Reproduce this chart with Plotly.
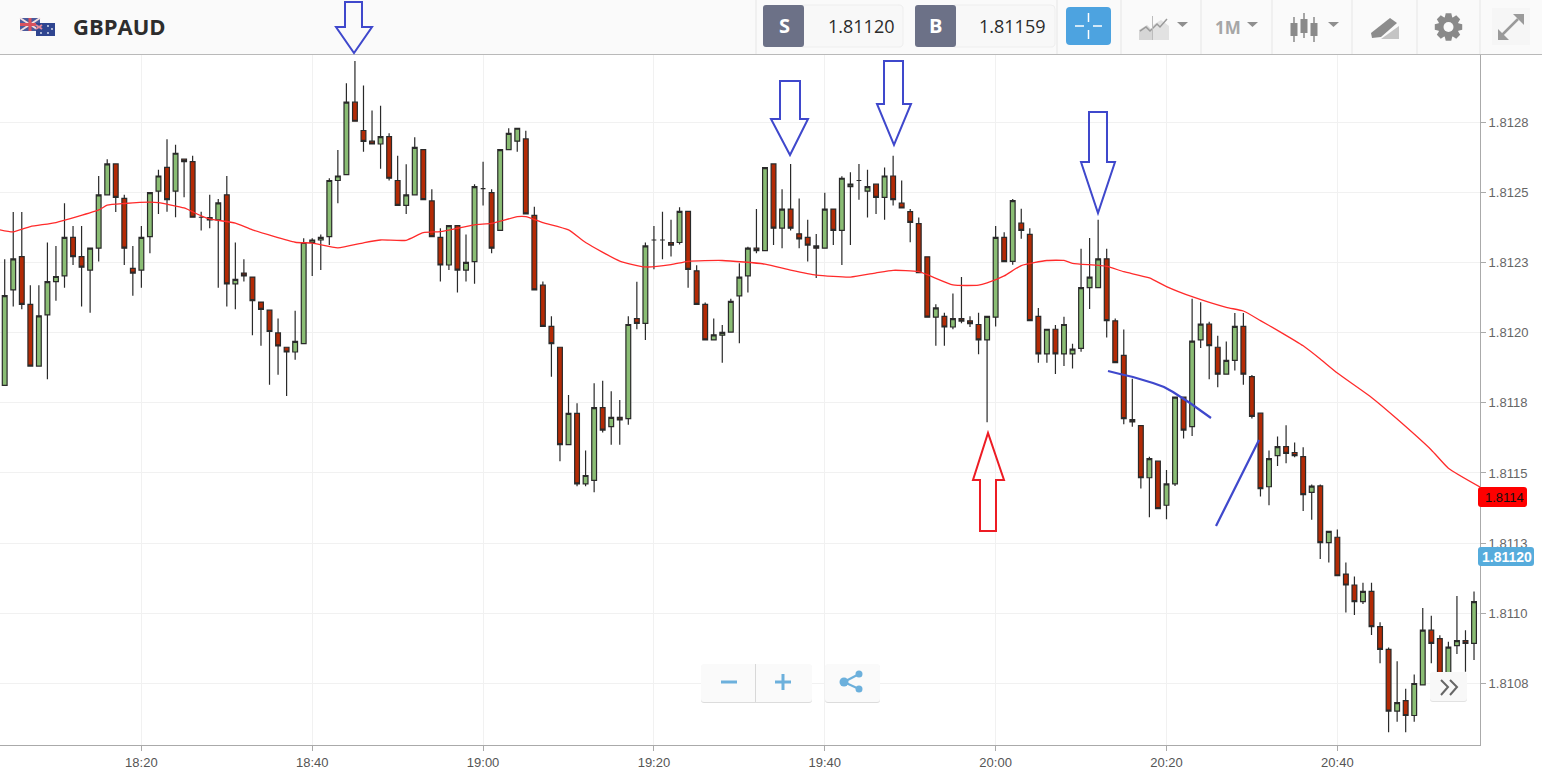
import math
import pandas as pd
import plotly.graph_objects as go

symbol = "GBPAUD"
sell_price = "1.81120"
buy_price = "1.81159"
ma_label = "1.8114"
first_candle = "2018-01-01 18:04"

opens = [1.811812,1.812152,1.812271,1.812101,1.811881,1.812063,1.812182,1.812202,1.812339,1.812271,
1.812223,1.812301,1.812491,1.812601,1.812478,1.812229,1.812223,1.812342,1.812504,1.812589,
1.812504,1.812618,1.812609,1.812411,1.812410,1.812402,1.812491,1.812174,1.812212,1.812198,
1.812109,1.812080,1.811999,1.811948,1.811931,1.811961,1.812321,1.812330,1.812342,1.812542,
1.812563,1.812821,1.812720,1.812682,1.812672,1.812698,1.812542,1.812453,1.812491,1.812652,
1.812469,1.812339,1.812241,1.812381,1.812223,1.812253,1.812513,1.812499,1.812364,1.812652,
1.812682,1.812690,1.812418,1.812169,1.812022,1.811948,1.811601,1.811712,1.811461,1.811474,
1.811733,1.811665,1.811698,1.811694,1.812050,1.812033,1.812330,1.812330,1.812321,1.812321,
1.812432,1.812220,1.812101,1.811974,1.811991,1.812002,1.812131,1.812202,1.812301,1.812292,
1.812601,1.812372,1.812440,1.812352,1.812339,1.812309,1.812301,1.812440,1.812364,1.812520,
1.812542,1.812504,1.812529,1.812482,1.812558,1.812461,1.812431,1.812388,1.812270,1.812055,
1.812058,1.812020,1.812050,1.812042,1.812029,1.811974,1.812055,1.812339,1.812254,1.812390,
1.812350,1.812058,1.811924,1.812012,1.811924,1.811924,1.811944,1.812160,1.812160,1.812263,
1.812042,1.811919,1.811690,1.811669,1.811483,1.811542,1.811385,1.811461,1.811770,1.811665,
1.811974,1.812030,1.811948,1.811852,1.811901,1.812022,1.811843,1.811713,1.811451,1.811562,
1.811594,1.811573,1.811558,1.811431,1.811454,1.811252,1.811271,1.811140,1.811101,1.811042,
1.811078,1.810953,1.810872,1.810652,1.810689,1.810636,1.810745,1.810940,1.810910,1.810751,
1.810885,1.810903,1.810893]
highs = [1.812261,1.812430,1.812430,1.812169,1.812169,1.812321,1.812309,1.812461,1.812380,1.812380,
1.812301,1.812558,1.812618,1.812601,1.812491,1.812309,1.812380,1.812499,1.812580,1.812689,
1.812669,1.812618,1.812630,1.812431,1.812491,1.812476,1.812558,1.812321,1.812261,1.812198,
1.812109,1.812080,1.812050,1.811948,1.812078,1.812336,1.812336,1.812350,1.812550,1.812651,
1.812888,1.812968,1.812880,1.812791,1.812808,1.812710,1.812630,1.812600,1.812696,1.812652,
1.812511,1.812372,1.812381,1.812381,1.812350,1.812529,1.812609,1.812511,1.812652,1.812728,
1.812728,1.812719,1.812448,1.812182,1.812058,1.811948,1.811778,1.811748,1.811580,1.811820,
1.811829,1.811791,1.811760,1.812058,1.812181,1.812321,1.812380,1.812431,1.812402,1.812447,
1.812432,1.812240,1.812107,1.812050,1.812027,1.812121,1.812247,1.812306,1.812440,1.812588,
1.812601,1.812511,1.812601,1.812478,1.812402,1.812351,1.812498,1.812440,1.812557,1.812571,
1.812601,1.812580,1.812529,1.812588,1.812630,1.812542,1.812440,1.812410,1.812270,1.812101,
1.812071,1.812139,1.812198,1.812058,1.812071,1.812058,1.812380,1.812358,1.812476,1.812441,
1.812372,1.812088,1.812012,1.812027,1.812057,1.811960,1.812299,1.812337,1.812402,1.812299,
1.812050,1.812011,1.811836,1.811669,1.811558,1.811542,1.811511,1.811770,1.811770,1.812121,
1.812108,1.812039,1.811989,1.811968,1.812070,1.812070,1.811849,1.811715,1.811580,1.811630,
1.811670,1.811609,1.811592,1.811459,1.811459,1.811292,1.811299,1.811181,1.811131,1.811109,
1.811109,1.810968,1.810878,1.810829,1.810731,1.810782,1.811019,1.810991,1.810922,1.810899,
1.811062,1.810940,1.811078]
lows = [1.811812,1.812093,1.812083,1.811881,1.811881,1.811834,1.812114,1.812160,1.812241,1.812093,
1.812071,1.812253,1.812491,1.812430,1.812241,1.812131,1.812160,1.812283,1.812423,1.812431,
1.812411,1.812482,1.812411,1.812364,1.812372,1.812160,1.812093,1.812083,1.812182,1.811991,
1.811953,1.811814,1.811850,1.811774,1.811903,1.811961,1.812202,1.812223,1.812312,1.812461,
1.812563,1.812753,1.812644,1.812672,1.812584,1.812542,1.812453,1.812423,1.812491,1.812474,
1.812342,1.812182,1.812223,1.812143,1.812182,1.812174,1.812453,1.812283,1.812364,1.812652,
1.812644,1.812423,1.812152,1.812022,1.811843,1.811542,1.811601,1.811453,1.811453,1.811431,
1.811644,1.811601,1.811601,1.811672,1.812012,1.811974,1.812226,1.812261,1.812271,1.812314,
1.812160,1.812101,1.811974,1.811974,1.811893,1.812002,1.811962,1.812143,1.812283,1.812292,
1.812312,1.812301,1.812364,1.812301,1.812253,1.812195,1.812301,1.812312,1.812241,1.812312,
1.812473,1.812410,1.812423,1.812402,1.812453,1.812444,1.812322,1.812214,1.812055,1.811953,
1.811953,1.812012,1.812033,1.812020,1.811923,1.811681,1.812022,1.812253,1.812242,1.812334,
1.812043,1.811893,1.811893,1.811853,1.811881,1.811872,1.811932,1.812084,1.812160,1.811983,
1.811893,1.811674,1.811665,1.811445,1.811342,1.811373,1.811335,1.811454,1.811623,1.811632,
1.811945,1.811834,1.811805,1.811852,1.811865,1.811814,1.811694,1.811416,1.811385,1.811525,
1.811535,1.811556,1.811365,1.811333,1.811194,1.811181,1.811134,1.811003,1.810994,1.811033,
1.810923,1.810822,1.810576,1.810614,1.810576,1.810614,1.810745,1.810822,1.810715,1.810727,
1.810855,1.810792,1.810834]
closes = [1.812132,1.812263,1.812101,1.811881,1.812060,1.812182,1.812200,1.812339,1.812271,1.812233,
1.812301,1.812491,1.812601,1.812482,1.812301,1.812212,1.812339,1.812499,1.812558,1.812474,
1.812639,1.812609,1.812411,1.812411,1.812402,1.812462,1.812174,1.812190,1.812202,1.812114,
1.812083,1.812004,1.811953,1.811931,1.811969,1.812321,1.812330,1.812339,1.812542,1.812558,
1.812821,1.812753,1.812681,1.812672,1.812698,1.812550,1.812453,1.812491,1.812660,1.812474,
1.812342,1.812241,1.812381,1.812223,1.812250,1.812520,1.812513,1.812301,1.812652,1.812710,
1.812728,1.812423,1.812152,1.812022,1.811961,1.811601,1.811712,1.811461,1.811491,1.811733,
1.811653,1.811698,1.811689,1.812029,1.812033,1.812309,1.812330,1.812330,1.812312,1.812432,
1.812225,1.812101,1.811974,1.811992,1.812001,1.812111,1.812198,1.812301,1.812292,1.812588,
1.812372,1.812440,1.812372,1.812334,1.812312,1.812301,1.812440,1.812364,1.812550,1.812529,
1.812542,1.812520,1.812482,1.812558,1.812474,1.812444,1.812393,1.812214,1.812055,1.812088,
1.812020,1.812050,1.812041,1.812032,1.811974,1.812058,1.812339,1.812253,1.812470,1.812364,
1.812043,1.811924,1.812012,1.811924,1.812029,1.811941,1.812160,1.812198,1.812263,1.812043,
1.811893,1.811694,1.811682,1.811483,1.811551,1.811373,1.811461,1.811770,1.811653,1.811970,
1.812030,1.811954,1.811852,1.811901,1.812022,1.811852,1.811702,1.811444,1.811551,1.811594,
1.811570,1.811562,1.811423,1.811453,1.811252,1.811292,1.811134,1.811101,1.811042,1.811078,
1.810953,1.810872,1.810652,1.810682,1.810636,1.810750,1.810940,1.810893,1.810751,1.810880,
1.810903,1.810893,1.811042]

ma_times = ["18:03","18:05","18:07","18:10","18:15","18:16","18:18","18:21","18:22","18:25",
"18:27","18:28","18:31","18:33","18:38","18:40","18:43","18:46","18:48","18:51",
"18:53","18:55","18:59","19:01","19:04","19:05","19:07","19:10","19:12","19:16",
"19:19","19:22","19:24","19:28","19:33","19:36","19:39","19:43","19:46","19:48",
"19:51","19:55","19:58","19:59","20:01","20:03","20:06","20:08","20:09","20:13",
"20:15","20:18","20:20","20:23","20:27","20:29","20:31","20:33","20:36","20:38","20:40",
"20:44","20:47","20:51","20:53","20:57"]
ma_values = [1.812369,1.812359,1.812378,1.812392,1.812437,1.812454,1.812460,1.812465,1.812463,1.812444,
1.812416,1.812405,1.812390,1.812366,1.812322,1.812319,1.812302,1.812320,1.812330,1.812329,
1.812356,1.812360,1.812384,1.812389,1.812413,1.812413,1.812392,1.812366,1.812321,1.812255,
1.812234,1.812242,1.812254,1.812257,1.812244,1.812223,1.812205,1.812198,1.812213,1.812222,
1.812217,1.812170,1.812169,1.812177,1.812202,1.812239,1.812257,1.812257,1.812247,1.812236,
1.812217,1.812195,1.812164,1.812128,1.812090,1.812077,1.812043,1.812008,1.811953,1.811906,1.811856,
1.811769,1.811692,1.811582,1.811517,1.811445]

y_ticks = [1.81275,1.8125,1.81225,1.812,1.81175,1.8115,1.81125,1.811,1.81075]
y_labels = ["1.8128","1.8125","1.8123","1.8120","1.8118","1.8115","1.8113","1.8110","1.8108"]

times = pd.date_range(first_candle, periods=len(opens), freq="min")
ma_x = ["2018-01-01 " + t for t in ma_times]

W, H = 1542, 780
L, R, T, B = 0, 1480, 55, 745

# decorations are placed in screen pixels, this turns them into paper coords
def px(x):
    return (x - L) / (R - L)

def py(y):
    return (B - y) / (B - T)

def poly(pts, close=True):
    s = "M " + " L ".join(f"{px(x):.5f} {py(y):.5f}" for x, y in pts)
    return s + (" Z" if close else "")

shapes = []
notes = []

def add_path(pts, fill=None, color=None, width=0, close=True):
    shapes.append(dict(type="path", xref="paper", yref="paper", layer="above", path=poly(pts, close),
                       fillcolor=fill if fill else "rgba(0,0,0,0)",
                       line=dict(color=color if color else "rgba(0,0,0,0)", width=width)))

def add_rect(x0, y0, x1, y1, fill=None, color=None, width=0):
    shapes.append(dict(type="rect", xref="paper", yref="paper", layer="above",
                       x0=px(x0), x1=px(x1), y0=py(y1), y1=py(y0),
                       fillcolor=fill if fill else "rgba(0,0,0,0)",
                       line=dict(color=color if color else "rgba(0,0,0,0)", width=width)))

def add_round(x0, y0, x1, y1, r, fill=None, color=None, width=0):
    c = lambda x, y: f"{px(x):.5f} {py(y):.5f}"
    path = (f"M {c(x0 + r, y0)} L {c(x1 - r, y0)} Q {c(x1, y0)} {c(x1, y0 + r)} "
            f"L {c(x1, y1 - r)} Q {c(x1, y1)} {c(x1 - r, y1)} "
            f"L {c(x0 + r, y1)} Q {c(x0, y1)} {c(x0, y1 - r)} "
            f"L {c(x0, y0 + r)} Q {c(x0, y0)} {c(x0 + r, y0)} Z")
    shapes.append(dict(type="path", xref="paper", yref="paper", layer="above", path=path,
                       fillcolor=fill if fill else "rgba(0,0,0,0)",
                       line=dict(color=color if color else "rgba(0,0,0,0)", width=width)))

def add_circle(cx, cy, r, fill):
    shapes.append(dict(type="circle", xref="paper", yref="paper", layer="above",
                       x0=px(cx - r), x1=px(cx + r), y0=py(cy + r), y1=py(cy - r),
                       fillcolor=fill, line=dict(width=0)))

def add_line(x0, y0, x1, y1, color, width):
    add_path([(x0, y0), (x1, y1)], color=color, width=width, close=False)

def add_text(x, y, text, size, color, bold=False, family="Open Sans", anchor="center"):
    notes.append(dict(xref="paper", yref="paper", x=px(x), y=py(y), text=text, showarrow=False,
                      xanchor=anchor, yanchor="middle",
                      font=dict(size=size, color=color, family=family, weight=700 if bold else 400)))

# header bar
add_rect(0, 0, 1542, 54, fill="#fafafa")
add_line(0, 54.5, 1542, 54.5, "#b9b9b9", 1)
for x in [756, 1057, 1121, 1201, 1272, 1352, 1417, 1480]:
    add_line(x, 0, x, 54, "#e6e6e6", 1)

# flags
add_rect(20, 18, 40, 31, fill="#4a5a9c")
add_line(20, 18, 40, 31, "#f2dfe0", 2)
add_line(40, 18, 20, 31, "#f2dfe0", 2)
add_line(30, 18, 30, 31, "#d9525e", 3)
add_line(20, 24.5, 40, 24.5, "#d9525e", 3)
add_rect(36, 23, 55, 36, fill="#2f4590")
add_line(36, 25, 42, 29, "#e58a98", 2)
add_line(42, 25, 36, 29, "#e58a98", 2)
for cx, cy in [(48, 26), (52, 29), (48, 33), (41, 33)]:
    add_circle(cx, cy, 0.9, "#e8ecf6")
add_text(71, 26.5, symbol, 22, "#2d2d2d", bold=True, anchor="left")

# sell / buy boxes
add_round(800, 5, 903, 47, 4, fill="#f8f8f8", color="#eeeeee", width=1)
add_round(763, 5, 804, 47, 3, fill="#6c7187")
add_text(784, 26, "S", 20, "white", bold=True)
add_text(861, 26, sell_price, 18, "#2b2b2b")
add_round(952, 5, 1055, 47, 4, fill="#f8f8f8", color="#eeeeee", width=1)
add_round(915, 5, 956, 47, 3, fill="#6c7187")
add_text(935, 26, "B", 20, "white", bold=True)
add_text(1012, 26, buy_price, 18, "#2b2b2b")

# crosshair button
add_round(1066, 7, 1111, 45, 4, fill="#4da3e0")
add_line(1088.5, 13, 1088.5, 22, "white", 1.5)
add_line(1088.5, 30, 1088.5, 39, "white", 1.5)
add_line(1075, 26, 1084, 26, "white", 1.5)
add_line(1093, 26, 1102, 26, "white", 1.5)

# toolbar icons
add_path([(1139, 40), (1139, 30), (1147, 25), (1152, 30), (1152, 40)], fill="#d6d6d6")
add_path([(1153, 40), (1153, 25), (1161, 20), (1169, 26), (1169, 40)], fill="#e2e2e2")
add_path([(1140, 31), (1146, 27), (1150, 31), (1157, 24), (1160, 27), (1167, 19)], color="#9a9a9a", width=1.5, close=False)
add_line(1152.5, 16, 1152.5, 40, "#bcbcbc", 1)
add_path([(1177, 22), (1188, 22), (1182.5, 27)], fill="#8f8f8f")
add_text(1228, 27, "1M", 17, "#a6a6a6", bold=True)
add_path([(1247, 22), (1258, 22), (1252.5, 27)], fill="#8f8f8f")
for cx, y0, y1, b0, b1 in [(1294, 17, 42, 23, 36), (1304, 13, 38, 19, 33), (1314, 17, 42, 23, 36)]:
    add_line(cx, y0, cx, y1, "#8a8a8a", 1.5)
    add_rect(cx - 3.5, b0, cx + 3.5, b1, fill="#8a8a8a")
add_path([(1328, 22), (1339, 22), (1333.5, 27)], fill="#8f8f8f")
add_path([(1371, 33), (1390, 18), (1397, 23), (1381, 37), (1372, 38)], fill="#8c8c8c")
add_path([(1381, 39), (1399, 26), (1399, 39)], fill="#c4c4c4")

# gear
gear = []
for i in range(8):
    a = i * math.pi / 4
    for da, r in [(-0.36, 10.5), (-0.2, 14), (0.2, 14), (0.36, 10.5)]:
        gear.append((1448.5 + r * math.cos(a + da), 27 + r * math.sin(a + da)))
add_path(gear, fill="#8a8a8a")
add_circle(1448.5, 27, 5, "#fafafa")

# expand
add_rect(1492, 8, 1530, 45, fill="#f6f6f6")
add_line(1502, 35, 1518, 19, "#9a9a9a", 2.5)
add_path([(1513, 14), (1524, 14), (1524, 25)], fill="#9a9a9a")
add_path([(1498, 29), (1498, 40), (1509, 40)], fill="#9a9a9a")

# zoom and share buttons
add_round(701, 665, 812, 703, 3, fill="#dcdcdc")
add_round(701, 664, 812, 702, 3, fill="#fafafa")
add_line(755.5, 664, 755.5, 702, "#d8d8d8", 1)
add_line(721, 682, 737, 682, "#6cb0dc", 3)
add_line(775, 682, 791, 682, "#6cb0dc", 3)
add_line(783, 674, 783, 690, "#6cb0dc", 3)
add_round(825, 665, 880, 703, 3, fill="#dcdcdc")
add_round(825, 664, 880, 702, 3, fill="#fafafa")
add_line(844, 682, 859, 674, "#6cb0dc", 2)
add_line(844, 682, 859, 689, "#6cb0dc", 2)
add_circle(844, 682, 4.5, "#6cb0dc")
add_circle(859, 674, 3.5, "#6cb0dc")
add_circle(859, 689, 3.5, "#6cb0dc")

# scroll button
add_round(1430, 673, 1467, 702, 3, fill="#e2e2e2")
add_round(1430, 672, 1467, 701, 3, fill="#f8f8f8")
add_path([(1441, 680), (1448, 687), (1441, 695)], color="#666666", width=2, close=False)
add_path([(1450, 680), (1457, 687), (1450, 695)], color="#666666", width=2, close=False)

# price tags on the axis
add_round(1478, 487, 1527, 507, 3, fill="#ff0000")
add_text(1504, 497.5, ma_label, 13, "#111111", family="Liberation Sans")
add_round(1478, 547, 1534, 566, 3, fill="#56acdc")
add_text(1507, 557, sell_price, 14, "white", bold=True, family="Liberation Sans")

# hand drawn arrows and lines
blue = "#3f48cc"
red = "#ed1c24"
add_path([(345, 2), (362, 2), (362, 27), (372, 27), (354, 53), (336, 27), (345, 27)], color=blue, width=2)
add_path([(780, 81), (800, 81), (800, 119), (808, 119), (790, 155), (771, 119), (780, 119)], color=blue, width=2)
add_path([(884, 61), (903, 61), (903, 104), (911, 104), (894, 145), (877, 104), (884, 104)], color=blue, width=2)
add_path([(1089, 112), (1107, 112), (1107, 162), (1115, 162), (1098, 213), (1081, 162), (1089, 162)], color=blue, width=2)
add_path([(980, 531), (996, 531), (996, 480), (1004, 480), (988, 433), (973, 480), (980, 480)], color=red, width=2)
add_path([(1108, 371), (1120, 374), (1133, 377), (1153, 383), (1164, 387), (1173, 392), (1190, 403), (1211, 418)],
         color=blue, width=2.2, close=False)
add_line(1216, 526, 1259, 440, blue, 2.2)

fig = go.Figure()
fig.add_trace(go.Candlestick(x=times, open=opens, high=highs, low=lows, close=closes,
                             whiskerwidth=0, hoverinfo="skip",
                             increasing=dict(fillcolor="#8ABD74", line=dict(color="#2a2a2a", width=1.2)),
                             decreasing=dict(fillcolor="#B32A05", line=dict(color="#2a2a2a", width=1.2))))
fig.add_trace(go.Scatter(x=ma_x, y=ma_values, mode="lines", hoverinfo="skip",
                         line=dict(color="#ff2b2b", width=1.3, shape="spline", smoothing=0.5)))

fig.update_layout(width=W, height=H, margin=dict(l=L, r=W - R, t=T, b=H - B),
                  paper_bgcolor="white", plot_bgcolor="white", showlegend=False,
                  boxgap=0.2, shapes=shapes, annotations=notes,
                  font=dict(family="Liberation Sans", size=12, color="#666666"))
fig.update_xaxes(type="date", range=["2018-01-01 18:03:27", "2018-01-01 20:56:42"],
                 rangeslider_visible=False, tickformat="%H:%M",
                 tick0="2018-01-01 18:20", dtick=20 * 60000,
                 showgrid=True, gridcolor="#f1f1f1", gridwidth=1, zeroline=False,
                 showline=True, linecolor="#aaaaaa", linewidth=1,
                 ticks="outside", ticklen=5, tickcolor="#aaaaaa",
                 tickfont=dict(size=13, color="#555555"))
fig.update_yaxes(side="right", range=[1.810531, 1.812989], tickmode="array",
                 tickvals=y_ticks, ticktext=y_labels,
                 showgrid=True, gridcolor="#f1f1f1", gridwidth=1, zeroline=False,
                 showline=True, linecolor="#aaaaaa", linewidth=1,
                 ticks="outside", ticklen=5, tickcolor="#aaaaaa",
                 tickfont=dict(size=13, color="#666666"))

fig.write_html("out.html", config=dict(displayModeBar=False),
               post_script="document.body.style.margin='0';document.body.style.overflow='hidden';")
